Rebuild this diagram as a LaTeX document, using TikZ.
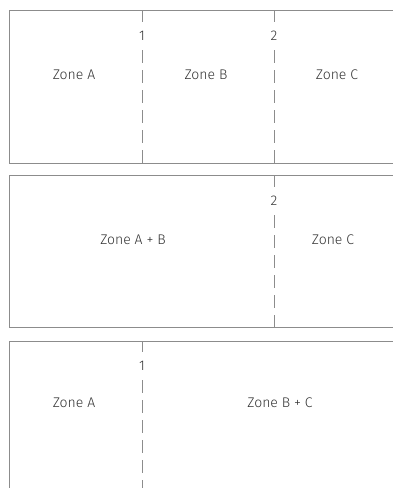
\documentclass[tikz,border=0pt]{standalone}
\usepackage{fontspec}
\setmainfont{Fira Sans Light}
\definecolor{zoneline}{RGB}{140,140,140}
\definecolor{zonetext}{RGB}{50,50,50}
\usetikzlibrary{positioning}

\begin{document}
\begin{tikzpicture}[x=1pt, y=-1pt,
  frame/.style={draw=zoneline, line width=0.9pt},
  cut/.style={draw=zoneline, line width=0.9pt, dash pattern=on 12.5pt off 7.5pt},
  zone/.style={text=zonetext, font=\fontsize{14}{16}\selectfont, inner sep=0pt},
  num/.style={text=zonetext, font=\fontsize{14}{16}\selectfont, minimum height=28pt, inner sep=0pt, outer sep=0pt}
]
  \useasboundingbox (0,0) rectangle (393,488);

  \draw[frame] (394,10) -- (9.5,10) -- (9.5,163) -- (394,163);
  \node[zone] (za1) at (74,75) {Zone A};
  \node[zone] (zb1) at (206,75) {Zone B};
  \node[zone] (zc1) at (337,75) {Zone C};
  \coordinate (c1t) at (142,10);
  \coordinate (c1b) at (142,163);
  \node[num] (n1a) at (142,36) {1};
  \draw[cut] (c1t) -- (n1a.north) (n1a.south) -- (c1b);
  \coordinate (c2t) at (274,10);
  \coordinate (c2b) at (274,163);
  \node[num] (n2a) at (274,36) {2};
  \draw[cut] (c2t) -- (n2a.north) (n2a.south) -- (c2b);

  \draw[frame] (394,175) -- (9.5,175) -- (9.5,327) -- (394,327);
  \node[zone] (zab) at (133,240) {Zone A + B};
  \node[zone] (zc2) at (333,240) {Zone C};
  \coordinate (c3t) at (274,175);
  \coordinate (c3b) at (274,327);
  \node[num] (n2b) at (274,201) {2};
  \draw[cut] (c3t) -- (n2b.north) (n2b.south) -- (c3b);

  \draw[frame] (394,341) -- (9.5,341) -- (9.5,490);
  \node[zone] (za3) at (74,403) {Zone A};
  \node[zone] (zbc) at (280,403) {Zone B + C};
  \coordinate (c4t) at (142,341);
  \coordinate (c4b) at (142,490);
  \node[num] (n1b) at (142,366) {1};
  \draw[cut] (c4t) -- (n1b.north) (n1b.south) -- (c4b);
\end{tikzpicture}
\end{document}
